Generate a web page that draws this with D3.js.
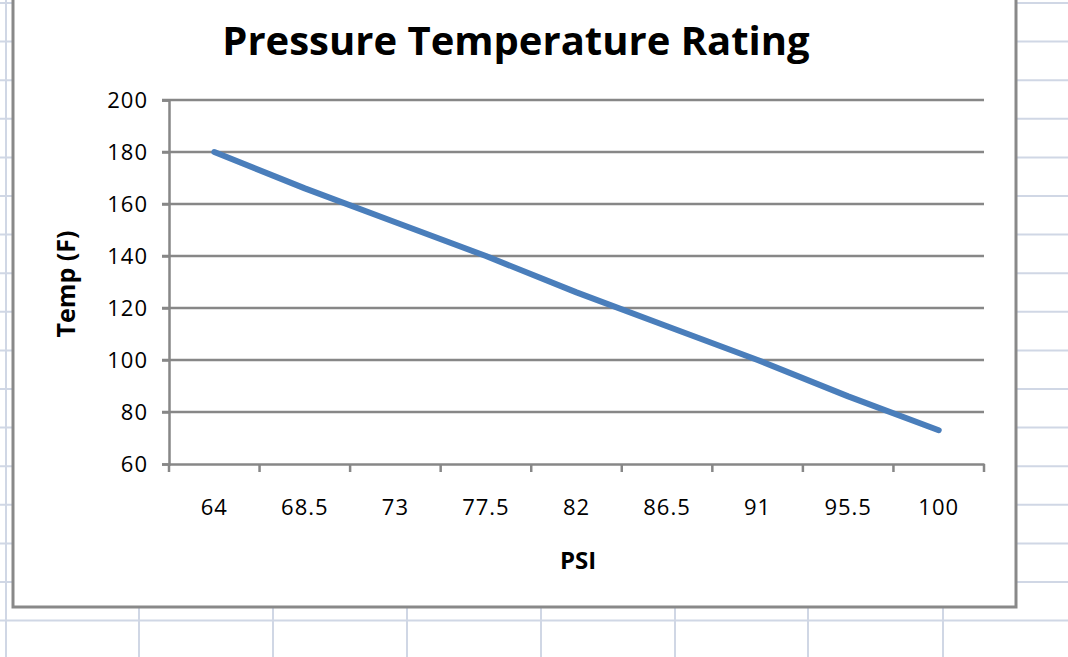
<!DOCTYPE html>
<html>
<head>
<meta charset="utf-8">
<script src="https://cdn.jsdelivr.net/npm/d3@7"></script>
<style>
  html, body { margin: 0; padding: 0; background: #fff; }
  svg { display: block; }
  text { font-family: "Open Sans", Lato, sans-serif; fill: #000; }
</style>
</head>
<body>
<div id="vis"></div>
<script>
// chart data
const psi = ["64", "68.5", "73", "77.5", "82", "86.5", "91", "95.5", "100"];
const temps = [180, 166, 153, 140, 126, 113, 100, 86, 73];
const yTicks = [60, 80, 100, 120, 140, 160, 180, 200];

const width = 1068, height = 657;
const svg = d3.select("#vis").append("svg")
  .attr("width", width)
  .attr("height", height);

// spreadsheet cells behind the chart
const cellColor = "#d0d7e5";
const rows = d3.range(0, 17).map(i => 3 + i * 38.6);
const cols = [6, 139, 273, 407, 541, 675, 808, 943];
svg.append("g").selectAll("line.row").data(rows).join("line")
  .attr("x1", 0).attr("x2", width)
  .attr("y1", d => d).attr("y2", d => d)
  .attr("stroke", cellColor).attr("stroke-width", 2);
svg.append("g").selectAll("line.col").data(cols).join("line")
  .attr("x1", d => d).attr("x2", d => d)
  .attr("y1", 0).attr("y2", height)
  .attr("stroke", cellColor).attr("stroke-width", 2);

// chart box
svg.append("rect")
  .attr("x", 13).attr("y", -10)
  .attr("width", 1003).attr("height", 617)
  .attr("fill", "#fff")
  .attr("stroke", "#898989").attr("stroke-width", 3);

const plotL = 169, plotR = 984, plotT = 100, plotB = 464;
const x = d3.scaleBand().domain(psi).range([plotL, plotR]).padding(0);
const y = d3.scaleLinear().domain([60, 200]).range([plotB, plotT]);
const grey = "#878787";

// gridlines
svg.append("g").selectAll("line").data(yTicks.filter(d => d > 60)).join("line")
  .attr("x1", plotL - 7).attr("x2", plotR)
  .attr("y1", d => y(d)).attr("y2", d => y(d))
  .attr("stroke", grey).attr("stroke-width", 2.5);

// y axis
const yAxis = svg.append("g")
  .attr("transform", `translate(${plotL},0)`)
  .call(d3.axisLeft(y).tickValues(yTicks).tickSize(7).tickPadding(14));
yAxis.select(".domain").attr("stroke", grey).attr("stroke-width", 2.5);
yAxis.selectAll(".tick line").attr("stroke", grey).attr("stroke-width", 2.5);
yAxis.selectAll(".tick text")
  .attr("font-family", null)
  .style("font-size", "22px").style("letter-spacing", "1px")
  .attr("fill", "#000");

// x axis
const xAxis = svg.append("g")
  .attr("transform", `translate(0,${plotB})`)
  .call(d3.axisBottom(x).tickSize(0).tickPadding(35));
xAxis.select(".domain").attr("stroke", grey).attr("stroke-width", 2.5);
xAxis.selectAll(".tick text")
  .attr("font-family", null)
  .style("font-size", "22px").style("letter-spacing", "1px")
  .attr("fill", "#000");
const bounds = psi.map(d => x(d)).concat([x.range()[1]]);
xAxis.selectAll("line.bound").data(bounds).join("line")
  .attr("class", "bound")
  .attr("x1", d => d).attr("x2", d => d)
  .attr("y1", 0).attr("y2", 8)
  .attr("stroke", grey).attr("stroke-width", 2.5);

// series line
const line = d3.line()
  .x((d, i) => x(psi[i]) + x.bandwidth() / 2)
  .y(d => y(d));
svg.append("path")
  .datum(temps)
  .attr("d", line)
  .attr("fill", "none")
  .attr("stroke", "#4a7ebb")
  .attr("stroke-width", 6)
  .attr("stroke-linecap", "round")
  .attr("stroke-linejoin", "round");

// titles
svg.append("text")
  .attr("x", 516).attr("y", 55)
  .attr("text-anchor", "middle")
  .style("font-size", "40px").style("font-weight", "bold")
  .text("Pressure Temperature Rating");

svg.append("text")
  .attr("transform", "translate(75,284) rotate(-90)")
  .attr("text-anchor", "middle")
  .style("font-size", "25px").style("font-weight", "bold")
  .text("Temp (F)");

svg.append("text")
  .attr("x", 578).attr("y", 569)
  .attr("text-anchor", "middle")
  .style("font-size", "24px").style("font-weight", "bold")
  .text("PSI");
</script>
</body>
</html>
